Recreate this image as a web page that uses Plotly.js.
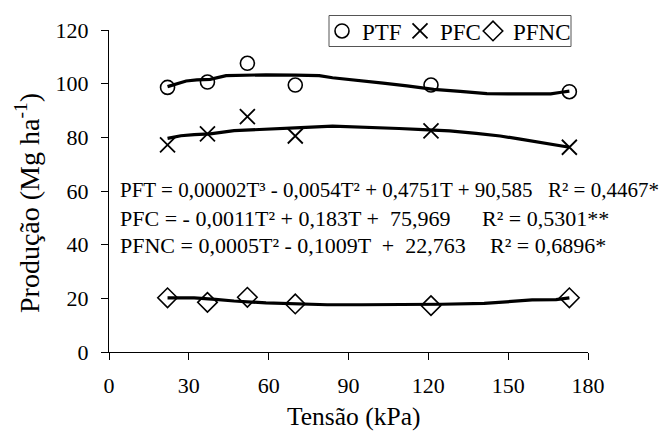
<!DOCTYPE html>
<html>
<head>
<meta charset="utf-8">
<script src="https://cdn.plot.ly/plotly-3.0.1.min.js"></script>
<style>html,body{margin:0;padding:0;background:#fff;}#chart{width:659px;height:431px;}</style>
</head>
<body>
<div id="chart"></div>
<script>
// Observed data
const tension = [22, 37, 52, 70, 121, 173];
const ptf  = [98.6, 100.6, 107.6, 99.5, 99.5, 97.0];
const pfc  = [77.2, 81.3, 87.7, 80.5, 82.4, 76.3];
const pfnc = [20.2, 18.5, 20.4, 17.9, 17.3, 20.2];

// Fitted trend curves
const ptfCurveX = [22, 25, 29, 33, 38, 44, 50, 59, 70, 79, 84, 95, 103, 112, 122, 132, 142, 150, 158, 166, 170, 173];
const ptfCurveY = [98.9, 99.8, 101.0, 101.4, 101.6, 103.0, 103.2, 103.3, 103.2, 103.0, 102.2, 101.2, 100.2, 99.2, 97.9, 97.1, 96.3, 96.2, 96.2, 96.2, 96.8, 97.2];
const pfcCurveX = [22, 27, 32, 38, 47, 55, 63, 72, 84, 95, 109, 118, 128, 138, 147, 154, 160, 166, 173];
const pfcCurveY = [79.6, 80.6, 81.0, 81.3, 82.5, 82.8, 83.3, 83.6, 84.2, 83.9, 83.3, 82.9, 82.4, 81.5, 80.5, 79.4, 78.4, 77.4, 76.3];
const pfncCurveX = [22, 32, 40, 47, 59, 70, 82, 95, 109, 125, 141, 150, 159, 168, 173];
const pfncCurveY = [20.2, 20.2, 19.6, 19.0, 18.3, 18.0, 17.6, 17.6, 17.6, 17.8, 18.1, 18.8, 19.4, 19.5, 20.2];

const seriesNames = ["PTF", "PFC", "PFNC"];
const NB = "\u00a0";
const eqTexts = [
  "PFT = 0,00002T³ - 0,0054T² + 0,4751T + 90,585",
  "PFC = - 0,0011T² + 0,183T +" + NB + " 75,969",
  "PFNC = 0,0005T² - 0,1009T " + NB + "+" + NB + " 22,763"
];
const r2Texts = ["R² = 0,4467*", "R² = 0,5301**", "R² = 0,6896*"];
const eqY = [60.4, 49.8, 39.6];
const eqSize = [21, 22, 22];
const r2X = [546, 480, 488];
const r2Size = [21, 22, 22];

const xTicks = [0, 30, 60, 90, 120, 150, 180];
const yTicks = [0, 20, 40, 60, 80, 100, 120];
const xTitle = "Tensão (kPa)";
const yTitle = "Produção (Mg ha<sup>-1</sup>)";

const FONT = "Liberation Serif, Times New Roman, serif";
const lineStyle = {color: "#000", width: 3.2};

const traces = [
  {x: ptfCurveX, y: ptfCurveY, mode: "lines", line: lineStyle, showlegend: false, hoverinfo: "skip"},
  {x: pfcCurveX, y: pfcCurveY, mode: "lines", line: lineStyle, showlegend: false, hoverinfo: "skip"},
  {x: pfncCurveX, y: pfncCurveY, mode: "lines", line: lineStyle, showlegend: false, hoverinfo: "skip"},
  {x: tension, y: ptf, name: seriesNames[0], mode: "markers", legend: "legend",
   marker: {symbol: "circle-open", size: 14, color: "#000", line: {width: 1.6, color: "#000"}}},
  {x: tension, y: pfc, name: seriesNames[1], mode: "markers", legend: "legend2",
   marker: {symbol: "x-thin-open", size: 15, color: "#000", line: {width: 1.8, color: "#000"}}},
  {x: tension, y: pfnc, name: seriesNames[2], mode: "markers", legend: "legend3",
   marker: {symbol: "diamond-open", size: 15, color: "#000", line: {width: 1.6, color: "#000"}}}
];

const plotL = 109, plotW = 479, plotT = 30, plotH = 322;
const px = v => (v - plotL) / plotW;
const py = v => (plotT + plotH - v) / plotH;

const annotations = [];
for (let i = 0; i < eqTexts.length; i++) {
  annotations.push({xref: "paper", yref: "y", x: px(118), y: eqY[i],
    xanchor: "left", yanchor: "middle", text: eqTexts[i], showarrow: false,
    font: {family: FONT, size: eqSize[i], color: "#000"}});
  annotations.push({xref: "paper", yref: "y", x: px(r2X[i]), y: eqY[i],
    xanchor: "left", yanchor: "middle", text: r2Texts[i], showarrow: false,
    font: {family: FONT, size: r2Size[i], color: "#000"}});
}
annotations.push({xref: "paper", yref: "paper", x: px(353), y: py(417), xanchor: "center", yanchor: "middle",
  text: xTitle, showarrow: false, font: {family: FONT, size: 25.5, color: "#000"}});
annotations.push({xref: "paper", yref: "paper", x: px(27.5), y: py(203.5), xanchor: "center", yanchor: "middle",
  textangle: -90, text: yTitle, showarrow: false, font: {family: FONT, size: 28, color: "#000"}});

const legendBase = {orientation: "h", xanchor: "left", yanchor: "middle", y: py(31),
  borderwidth: 0, bgcolor: "rgba(0,0,0,0)", itemwidth: 30,
  font: {family: FONT, size: 23, color: "#000"}};

const layout = {
  width: 659, height: 431,
  margin: {l: 109, r: 71, t: 30, b: 79, autoexpand: false},
  paper_bgcolor: "#fff", plot_bgcolor: "#fff",
  font: {family: FONT, size: 22, color: "#000"},
  showlegend: true,
  legend: Object.assign({}, legendBase, {x: px(322)}),
  legend2: Object.assign({}, legendBase, {x: px(400)}),
  legend3: Object.assign({}, legendBase, {x: px(473)}),
  shapes: [{type: "rect", xref: "paper", yref: "paper", x0: px(329), x1: px(571), y0: py(46.5), y1: py(15.5),
    line: {color: "#555", width: 1}, fillcolor: "rgba(0,0,0,0)", layer: "below"}],
  xaxis: {range: [0, 180], tickvals: xTicks, ticktext: xTicks.map(String), showgrid: false, zeroline: false,
    showline: true, linecolor: "#000", linewidth: 1, ticks: "outside", ticklen: 7, tickcolor: "#000",
    tickfont: {family: FONT, size: 22}, ticklabelstandoff: 7, fixedrange: true},
  yaxis: {range: [0, 120], tickvals: yTicks, ticktext: yTicks.map(String), showgrid: false, zeroline: false,
    showline: true, linecolor: "#000", linewidth: 1, ticks: "outside", ticklen: 7, tickcolor: "#000",
    tickfont: {family: FONT, size: 22}, ticklabelstandoff: 8, fixedrange: true},
  annotations: annotations
};

Plotly.newPlot("chart", traces, layout, {staticPlot: true, displayModeBar: false});
</script>
</body>
</html>
